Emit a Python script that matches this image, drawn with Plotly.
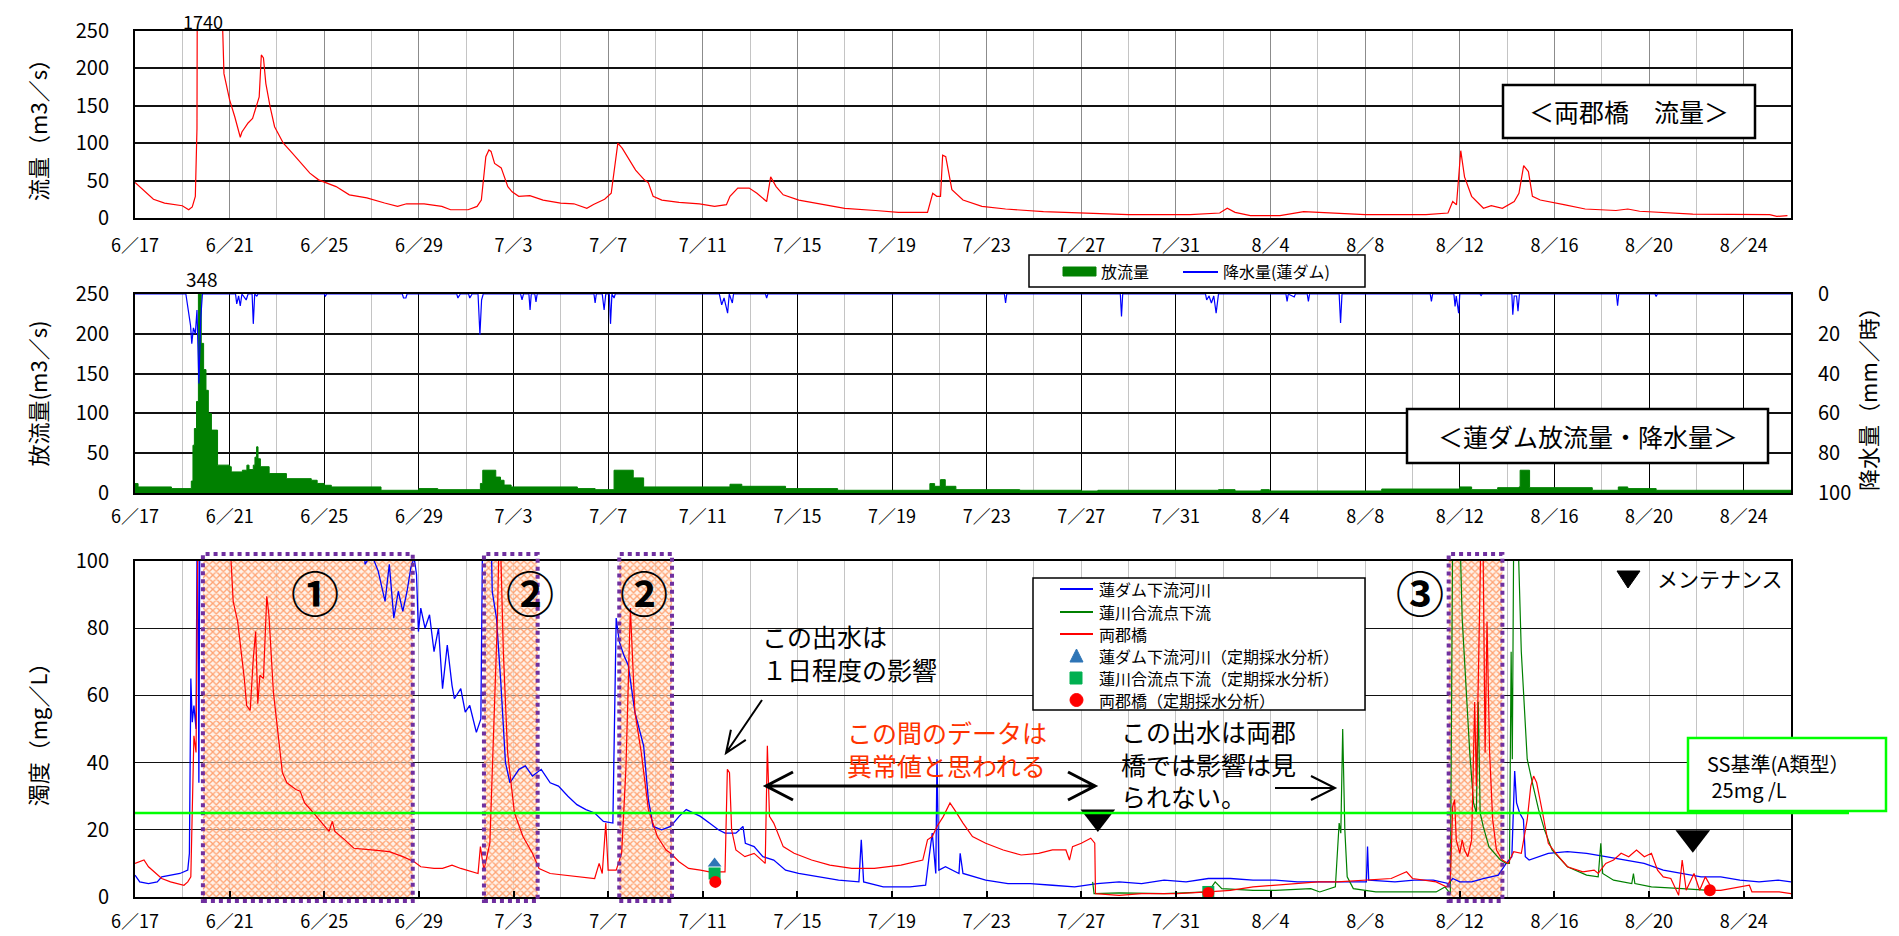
import math
import pandas as pd
import plotly.graph_objects as go

# ---------------- DATA (x = days after 6/17 00:00) ----------------
START = pd.Timestamp("2013-06-17 00:00")
SPAN_DAYS = 70

# top: 両郡橋 流量 (m3/s)
flow_pts = [(0, 47.5), (0.78, 25), (1.25, 20), (2.0, 16.4), (2.27, 11), (2.42, 14.7), (2.55, 29), (2.62, 120),
            (2.66, 700), (3.1, 1740), (3.62, 700), (3.7, 260), (3.76, 193), (4.0, 158), (4.22, 135), (4.41, 113),
            (4.45, 108), (4.52, 115), (4.78, 127), (4.97, 133), (5.12, 149), (5.25, 162), (5.34, 218), (5.43, 214),
            (5.53, 180), (5.71, 149), (5.9, 122), (6.27, 100), (6.64, 87), (7.01, 73), (7.39, 60), (7.76, 51),
            (8.04, 47.5), (8.5, 42), (9.06, 31), (9.8, 27), (10.55, 20), (11.1, 15.5), (11.48, 19), (12.22, 19),
            (12.97, 15.5), (13.34, 11), (14.08, 11), (14.46, 15.5), (14.64, 24), (14.83, 82), (14.96, 91),
            (15.05, 89), (15.2, 73), (15.48, 67), (15.76, 42), (15.94, 35), (16.22, 29), (16.69, 30), (17.25, 24),
            (17.99, 20), (18.55, 19), (19.1, 13), (19.38, 18), (19.85, 25), (20.13, 33), (20.41, 100), (20.6, 93),
            (20.97, 75), (21.16, 64), (21.53, 51), (21.7, 47), (21.9, 29), (22.27, 24), (23.0, 21), (23.86, 19),
            (24.5, 15.5), (25.0, 17.8), (25.15, 29), (25.48, 40), (25.96, 40), (26.29, 33), (26.7, 22), (26.87, 55),
            (27.1, 42), (27.4, 31), (28.06, 24), (29.0, 19), (30.0, 13), (31.3, 10), (32.27, 7.5), (33.5, 7.5),
            (33.72, 33), (33.89, 29), (34.05, 29), (34.14, 84), (34.27, 82), (34.53, 38), (35.0, 24), (35.8, 15.5),
            (36.8, 12), (38.4, 8.4), (40.0, 6.7), (42.0, 4.4), (44.6, 4.4), (45.85, 6.7), (46.17, 13), (46.5, 7.5),
            (47.15, 3.1), (48.4, 3.1), (49.4, 8.4), (50.4, 6.7), (52.0, 4.4), (54.57, 4.4), (55.5, 6.7), (55.7, 22),
            (55.86, 17.8), (56.04, 90), (56.2, 55), (56.5, 29), (57.0, 13), (57.33, 16.4), (57.8, 13), (58.3, 22),
            (58.5, 33), (58.7, 70), (58.9, 62), (59.07, 29), (59.4, 24), (60.4, 17.8), (61.3, 12), (62.6, 10),
            (63.1, 12), (63.6, 9), (65.85, 5.3), (69.1, 4.4), (69.4, 2.2), (69.85, 3.1)]

# middle: 蓮ダム 放流量 (m3/s), step values
discharge_pts = [(0, 11.8), (0.13, 7.6), (1.54, 5.5), (2.38, 15), (2.45, 60), (2.51, 81), (2.6, 115), (2.68, 348),
                 (2.8, 188), (2.9, 155), (3.0, 129), (3.1, 100), (3.23, 79), (3.49, 35), (4.0, 33), (4.07, 26.5),
                 (4.54, 28.6), (4.73, 35), (4.82, 29.4), (5.0, 35), (5.07, 45), (5.14, 58), (5.2, 43), (5.3, 33),
                 (5.67, 24.4), (6.4, 18), (7.45, 16), (7.7, 12), (8.0, 9.7), (8.3, 7.6), (10.4, 3.4), (12.0, 5.5),
                 (12.8, 4.2), (14.6, 12), (14.7, 28.6), (15.25, 20), (15.45, 16), (15.6, 10), (15.9, 7.6),
                 (18.7, 5.5), (19.45, 4.2), (20.25, 28.6), (21.06, 19), (21.5, 7.6), (25.15, 11), (25.65, 8.4),
                 (27.5, 5.5), (29.7, 3.4), (33.6, 11.8), (33.8, 8.4), (34.05, 16.8), (34.25, 8.4), (34.7, 4.2),
                 (37.4, 3.4), (40.0, 2.5), (40.7, 3.4), (45.8, 4.2), (46.5, 2.5), (47.6, 4.2), (47.95, 2.5),
                 (52.7, 5), (56.0, 7.6), (56.5, 4.2), (57.6, 6.7), (58.5, 7.6), (58.55, 28.6), (58.95, 6.7),
                 (61.6, 3.4), (62.7, 7.6), (63.1, 5.5), (64.3, 3.4), (70, 3.4)]

# middle: 降水量 (蓮ダム) mm/h
rain_pts = [(0, 0), (2.15, 0), (2.25, 8), (2.35, 16), (2.4, 25), (2.47, 17), (2.55, 20), (2.62, 8), (2.7, 45),
            (2.78, 12), (2.85, 0), (4.25, 0), (4.3, 5), (4.38, 1), (4.45, 6), (4.52, 0), (4.7, 3), (4.78, 0),
            (4.95, 0), (5.0, 15), (5.06, 0), (5.15, 1), (5.2, 0), (8.0, 0), (8.05, 1), (8.1, 0), (11.3, 0),
            (11.35, 2), (11.45, 2), (11.5, 0), (13.6, 0), (13.65, 2), (13.75, 0), (14.1, 0), (14.15, 2), (14.25, 0),
            (14.5, 0), (14.58, 20.5), (14.65, 3), (14.72, 0), (16.3, 0), (16.36, 3), (16.42, 0), (16.65, 0),
            (16.7, 8), (16.75, 0), (16.9, 0), (16.95, 4), (17.0, 0), (19.4, 0), (19.45, 4.5), (19.5, 0),
            (19.75, 0), (19.83, 8), (19.9, 0), (20.05, 0), (20.1, 15), (20.16, 0), (20.25, 2), (20.3, 0),
            (24.7, 0), (24.8, 5.4), (24.9, 2), (25.05, 9.6), (25.12, 0), (25.25, 4.5), (25.3, 0), (26.65, 0),
            (26.7, 2), (26.75, 0), (36.75, 0), (36.8, 4.5), (36.85, 0), (41.65, 0), (41.7, 11.3), (41.75, 0),
            (45.25, 0), (45.3, 3), (45.4, 1), (45.5, 4.5), (45.6, 1), (45.7, 9.6), (45.8, 0), (48.65, 0),
            (48.7, 3.7), (48.75, 0), (49.0, 1.5), (49.05, 0), (49.55, 0), (49.6, 3.7), (49.65, 0), (50.9, 0),
            (50.96, 14.6), (51.02, 0), (54.75, 0), (54.8, 3.7), (54.85, 0), (55.75, 0), (55.8, 6.2), (55.85, 1),
            (55.95, 9.6), (56.0, 0), (56.85, 0), (56.9, 0.8), (56.95, 0), (58.2, 0), (58.24, 10.4), (58.3, 1),
            (58.4, 1), (58.46, 8.7), (58.52, 0), (62.62, 0), (62.67, 5.9), (62.72, 0), (64.25, 0), (64.3, 1.2),
            (64.35, 0), (70, 0)]

# bottom: 濁度 (mg/L)
blue_pts = [(0, 6.5), (0.2, 4.5), (0.57, 4), (0.94, 4.5), (1.13, 6), (1.5, 6.5), (1.9, 7), (2.23, 8), (2.3, 13),
            (2.36, 65), (2.42, 52), (2.49, 57), (2.58, 50), (2.64, 130), (2.7, 34), (2.75, 130), (9.7, 130),
            (9.72, 99), (10.0, 102), (10.28, 97), (10.57, 88), (10.75, 99), (10.94, 83), (11.13, 91), (11.32, 85),
            (11.5, 91), (11.66, 98), (11.8, 101), (11.9, 96), (11.98, 79), (12.08, 86), (12.26, 80), (12.45, 84),
            (12.64, 73), (12.83, 80), (13.0, 62), (13.2, 75), (13.4, 63), (13.5, 59), (13.77, 62), (13.96, 55),
            (14.15, 57), (14.43, 49), (14.62, 53), (14.72, 130), (15.0, 130), (15.1, 91), (15.28, 83), (15.47, 63),
            (15.66, 40), (15.85, 34), (16.04, 36), (16.23, 38), (16.5, 39), (16.8, 36), (17.17, 38), (17.55, 34),
            (17.9, 33), (18.3, 30), (18.68, 27.5), (19.06, 26), (19.43, 25), (19.8, 22.5), (20.2, 22), (20.34, 83),
            (20.47, 76), (20.66, 72), (20.85, 69), (21.13, 55), (21.5, 45), (21.7, 29), (21.9, 21), (22.26, 20),
            (22.64, 21), (23.0, 24), (23.3, 26), (23.58, 25), (23.9, 24), (24.28, 22), (24.66, 20), (24.94, 19),
            (25.4, 19), (25.7, 21), (25.8, 16), (26.17, 15), (26.54, 12), (27.0, 11), (27.5, 8), (28.05, 7),
            (29.0, 6), (29.74, 5), (30.6, 4.5), (30.7, 17), (30.8, 4.5), (31.63, 3), (32.76, 3), (33.42, 3.5),
            (33.55, 11), (33.7, 19), (33.85, 7), (33.9, 41), (33.98, 8), (34.26, 9), (34.83, 7), (34.88, 13),
            (35.0, 7), (35.96, 5), (36.9, 4), (37.84, 4), (38.78, 3.5), (39.72, 3), (40.67, 4), (41.6, 4.5),
            (42.55, 4), (43.5, 5), (44.43, 4.5), (45.37, 5.5), (46.3, 5.5), (47.26, 5), (48.2, 5), (49.14, 4.5),
            (50.08, 4.5), (51.4, 4.5), (52.05, 4.5), (52.1, 15), (52.15, 5), (53.26, 4.5), (54.07, 5), (54.88, 5),
            (55.53, 4), (55.7, 5.5), (55.85, 5), (56.0, 4.5), (56.5, 4.5), (56.99, 5.5), (57.63, 6.5), (57.96, 10),
            (58.2, 12), (58.32, 37.5), (58.4, 28), (58.53, 25), (58.69, 23), (58.77, 12), (58.93, 11), (59.74, 13),
            (60.55, 13.5), (61.36, 13), (62.17, 12), (62.98, 11), (63.79, 10), (64.6, 8), (65.4, 7), (66.2, 6),
            (67.03, 6), (67.84, 5), (68.65, 4.5), (69.46, 5), (70, 4.5)]

green_pts = [(40.48, 4.5), (40.54, 1), (41.6, 1.2), (43.5, 1), (45.37, 1.5), (45.66, 4.5), (45.94, 2.5), (47.26, 2),
             (48.2, 2), (49.7, 2.5), (50.08, 1.5), (50.74, 3), (50.9, 22), (50.97, 19), (51.05, 50), (51.14, 20),
             (51.24, 6), (51.5, 2.5), (52.45, 1.5), (54.07, 1.5), (55.0, 1.5), (55.37, 3), (55.6, 1), (55.7, 110),
             (56.0, 110), (56.1, 83), (56.26, 63), (56.42, 43), (56.58, 28), (56.7, 25), (56.78, 58), (56.86, 25),
             (56.99, 21), (57.23, 15), (57.47, 13), (57.72, 11), (57.96, 10), (58.1, 10), (58.17, 73), (58.22, 41),
             (58.28, 110), (58.45, 110), (58.6, 73), (58.85, 41), (59.1, 33), (59.33, 26), (59.58, 20), (59.9, 14),
             (60.55, 9), (61.36, 6.5), (61.85, 6), (61.96, 16), (62.04, 7), (62.5, 5), (63.27, 4), (63.34, 7),
             (63.4, 4), (64.1, 3), (65.4, 2.5), (66.2, 2.2), (66.54, 2)]

red_pts = [(0, 10), (0.19, 10.5), (0.38, 11), (0.57, 9), (1.13, 5.5), (1.5, 4.5), (2.07, 3.5), (2.23, 4.5),
           (2.36, 6), (2.49, 48), (2.58, 43), (2.68, 130), (4.0, 130), (4.06, 100), (4.15, 88), (4.34, 82),
           (4.53, 71), (4.62, 65), (4.72, 57), (4.87, 55.5), (5.0, 71), (5.1, 79), (5.19, 57.5), (5.28, 66),
           (5.43, 65), (5.57, 89.5), (5.66, 84), (5.85, 61), (6.04, 49), (6.23, 37), (6.42, 34), (6.8, 32),
           (6.98, 31.5), (7.17, 28), (7.55, 25), (7.92, 22), (8.2, 19.5), (8.34, 22.5), (8.45, 19.5), (8.87, 17),
           (9.25, 14.5), (10.0, 14), (10.75, 13.5), (11.32, 12), (11.8, 10.5), (12.08, 9), (12.64, 8.5), (13.0, 8.5),
           (13.4, 9.5), (13.77, 8.5), (14.5, 7), (14.6, 15), (14.75, 8), (15.0, 16), (15.19, 53), (15.32, 83),
           (15.4, 110), (15.47, 100), (15.57, 73), (15.75, 43), (16.04, 25), (16.4, 18), (16.8, 13), (17.08, 8.5),
           (17.55, 7), (18.7, 6), (19.43, 5.5), (19.62, 10), (19.75, 7), (19.9, 22), (20.0, 8), (20.34, 8),
           (20.57, 13), (20.75, 38), (20.94, 86), (21.13, 55), (21.4, 43), (21.7, 26), (22.08, 18), (22.45, 14),
           (22.64, 13), (23.0, 10.5), (23.4, 8.5), (23.9, 8), (24.28, 7.5), (24.94, 7.5), (25.04, 38), (25.13, 37),
           (25.22, 20), (25.4, 14), (25.78, 12), (26.17, 13), (26.64, 10), (26.73, 45), (26.82, 24), (27.0, 22),
           (27.4, 15), (27.86, 13), (28.6, 11), (29.37, 9.5), (30.3, 8.5), (31.25, 8.5), (32.38, 9.5), (33.3, 11),
           (33.5, 17), (33.7, 18), (33.9, 21), (34.17, 24), (34.45, 28), (34.64, 26), (35.0, 22), (35.4, 18),
           (35.96, 16), (36.7, 14), (37.46, 12.5), (38.2, 13), (38.78, 14), (39.35, 14), (39.5, 11), (39.63, 15),
           (40.0, 16), (40.4, 17.5), (40.57, 16), (40.6, 1), (41.6, 0.5), (42.55, 1), (44.05, 1), (45.37, 1.5),
           (46.3, 2), (47.26, 3), (48.2, 3.5), (49.14, 4), (50.0, 4.5), (50.83, 4.5), (52.13, 5), (53.1, 5.5),
           (53.75, 7.5), (54.0, 5.5), (55.0, 4.5), (55.45, 3), (55.6, 5), (55.7, 27), (55.78, 29), (55.85, 17),
           (56.0, 13), (56.1, 17), (56.2, 14), (56.34, 12), (56.5, 17), (56.63, 58), (56.7, 33), (56.83, 83),
           (56.9, 110), (56.99, 100), (57.07, 43), (57.15, 82), (57.26, 43), (57.39, 23), (57.55, 14), (57.8, 11),
           (58.04, 10), (58.28, 13.5), (58.6, 13), (58.85, 23), (59.0, 33), (59.12, 36), (59.25, 34), (59.5, 25),
           (59.74, 16), (60.06, 13), (60.55, 9), (61.2, 7.5), (61.68, 8), (61.85, 7), (62.17, 10), (62.5, 11),
           (62.82, 13), (63.14, 12), (63.47, 14), (63.8, 12), (64.1, 13), (64.36, 8), (64.6, 6), (64.92, 5.5),
           (65.25, 0.5), (65.4, 11), (65.57, 2), (65.9, 7), (66.14, 2), (66.38, 6), (66.7, 2), (67.03, 2),
           (68.24, 3.5), (68.35, 1.5), (69.5, 1.5), (70, 1)]

# 定期採水分析
samp_blue = [(24.5, 10)]
samp_green = [(24.5, 7), (45.37, 1.5)]
samp_red = [(24.53, 4.5), (45.37, 1.2), (66.57, 2)]

# メンテナンス
maint_pts = [(40.7, 23.8), (65.85, 17.6)]

# 出水期間 (hatched boxes)
box_start = [2.87, 14.75, 20.47, 55.53]
box_end = [11.74, 17.02, 22.7, 57.8]
box_label = ["①", "②", "②", "③"]
box_label_day = [7.6, 16.7, 21.5, 54.3]

SS_LIMIT = 25
FLOW_PEAK_LABEL = "1740"
DIS_PEAK_LABEL = "348"

# ---------------- helpers ----------------
def T(days):
    return [START + pd.Timedelta(days=d) for d in days]

def split(pts):
    return [p[0] for p in pts], [p[1] for p in pts]

FONT = "Noto Sans CJK JP"
OFF = 8                      # page body margin
W, H = 1899 - OFF, 936 - OFF
ML, MR, MT, MB = 135 - OFF, W - (1791 - OFF), 31 - OFF, H - (897 - OFF)
PW, PH = W - ML - MR, H - MT - MB

def px(x):  # screenshot pixel x -> paper
    return (x - OFF - ML) / PW

def py(y):  # screenshot pixel y -> paper
    return (H - MB - (y - OFF)) / PH

DOM_TOP = [py(218), 1.0]
DOM_MID = [py(493), py(294)]
DOM_BOT = [0.0, py(561)]

def vb(v):  # bottom-panel value -> paper y
    return DOM_BOT[0] + v / 100 * (DOM_BOT[1] - DOM_BOT[0])

def dpx(d):  # day -> paper x
    return d / SPAN_DAYS

fig = go.Figure()

# top flow
d, v = split(flow_pts)
fig.add_trace(go.Scatter(x=T(d), y=v, mode="lines", line=dict(color="#FF0000", width=1.2),
                         xaxis="x", yaxis="y", showlegend=False))
# discharge
d, v = split(discharge_pts)
fig.add_trace(go.Scatter(x=T(d), y=v, mode="lines", line=dict(color="#008000", width=1, shape="hv"),
                         fill="tozeroy", fillcolor="#008000", xaxis="x2", yaxis="y2", showlegend=False))
# rain
d, v = split(rain_pts)
fig.add_trace(go.Scatter(x=T(d), y=v, mode="lines", line=dict(color="#0000FF", width=1.2),
                         xaxis="x2", yaxis="y4", showlegend=False))

# hatched boxes (under the turbidity lines)
bx, by = [], []
for s, e in zip(box_start, box_end):
    bx += T([s, s, e, e, s]) + [None]
    by += [0, 100, 100, 0, 0, None]
fig.add_trace(go.Scatter(x=bx, y=by, mode="lines", line=dict(width=0), fill="toself",
                         fillcolor="rgba(255,160,110,0.5)",
                         fillpattern=dict(shape="x", fgcolor="rgba(255,140,80,0.78)",
                                          bgcolor="rgba(255,230,215,0.55)", size=5, solidity=0.45),
                         xaxis="x3", yaxis="y3", showlegend=False, hoverinfo="skip"))

# turbidity
for pts, col, w in [(blue_pts, "#0000FF", 1.3), (green_pts, "#008000", 1.2), (red_pts, "#FF0000", 1.2)]:
    d, v = split(pts)
    fig.add_trace(go.Scatter(x=T(d), y=v, mode="lines", line=dict(color=col, width=w),
                             xaxis="x3", yaxis="y3", showlegend=False))

# maintenance markers
d, v = split(maint_pts)
fig.add_trace(go.Scatter(x=T(d), y=v, mode="markers", cliponaxis=False,
                         marker=dict(symbol="triangle-down", size=30, color="black"),
                         xaxis="x3", yaxis="y3", showlegend=False))
# sampling markers
for pts, sym, col in [(samp_blue, "triangle-up", "#2E75B6"), (samp_green, "square", "#00B050"),
                      (samp_red, "circle", "#FF0000")]:
    d, v = split(pts)
    fig.add_trace(go.Scatter(x=T(d), y=v, mode="markers", cliponaxis=False,
                             marker=dict(symbol=sym, size=12, color=col, line=dict(width=0)),
                             xaxis="x3", yaxis="y3", showlegend=False))

# ---------------- axes ----------------
DAY_MS = 86400000
xrange_ = [START, START + pd.Timedelta(days=SPAN_DAYS)]

def xaxis(anchor, major_grid, standoff, ticks=""):
    return dict(type="date", range=xrange_, domain=[0, 1], anchor=anchor,
                tick0=START, dtick=4 * DAY_MS, tickformat="%-m／%-d",
                showgrid=True, gridcolor=major_grid, gridwidth=1,
                minor=dict(tick0=START, dtick=2 * DAY_MS, showgrid=True, gridcolor="#C4C4C4", gridwidth=1),
                showline=True, linecolor="black", linewidth=2, mirror=True,
                ticks=ticks, ticklen=6, tickcolor="black", tickwidth=1.5,
                ticklabelstandoff=standoff,
                tickfont=dict(family=FONT, size=18, color="black"), zeroline=False)

def yaxis(dom, rng, dtick, title, gridw=1.5):
    return dict(domain=dom, range=rng, dtick=dtick, showgrid=True, gridcolor="#111111", gridwidth=gridw,
                showline=True, linecolor="black", linewidth=2, mirror=True, zeroline=False,
                ticks="", ticklabelstandoff=20,
                tickfont=dict(family=FONT, size=20, color="black"),
                title=dict(text=title, font=dict(family=FONT, size=22, color="black"), standoff=22))

layout = dict(
    width=W, height=H, autosize=False, template="none",
    paper_bgcolor="white", plot_bgcolor="white",
    margin=dict(l=ML, r=MR, t=MT, b=MB),
    showlegend=False,
    xaxis=xaxis("y", "#8C8C8C", 10),
    xaxis2=xaxis("y2", "#000000", 6),
    xaxis3=xaxis("y3", "#C4C4C4", 7, ticks="inside"),
    yaxis=yaxis(DOM_TOP, [0, 250], 50, "流量（m3／s）"),
    yaxis2=yaxis(DOM_MID, [0, 250], 50, "放流量(m3／s)"),
    yaxis3=yaxis(DOM_BOT, [0, 100], 20, "濁度（mg／L）", gridw=1.2),
    yaxis4=dict(overlaying="y2", anchor="x2", side="right", range=[100, 0], dtick=20, showgrid=False,
                zeroline=False, showline=False, ticks="", ticklabelstandoff=26,
                tickfont=dict(family=FONT, size=20, color="black"),
                title=dict(text="降水量（mm／時）", font=dict(family=FONT, size=22, color="black"), standoff=4)),
)
fig.update_layout(**layout)

# ---------------- decorations ----------------
shapes, annotations = [], []

def P(x, y):
    return f"{px(x):.5f},{py(y):.5f}"

def rect(x0, y0, x1, y1, color="black", width=2, fill="white", dash=None):
    shapes.append(dict(type="rect", xref="paper", yref="paper", x0=px(x0), x1=px(x1), y0=py(y1), y1=py(y0),
                       line=dict(color=color, width=width, dash=dash), fillcolor=fill, layer="above"))

def text(s, x, y, size, xanchor="left", color="black", yanchor="middle"):
    annotations.append(dict(xref="paper", yref="paper", x=px(x), y=py(y), text=s, showarrow=False,
                            xanchor=xanchor, yanchor=yanchor, align="left",
                            font=dict(family=FONT, size=size, color=color)))

def arrow(x0, y0, x1, y1, hl, hw, width, both=False):
    L = math.hypot(x1 - x0, y1 - y0)
    ux, uy = (x1 - x0) / L, (y1 - y0) / L
    nx, ny = -uy, ux
    path = (f"M{P(x0, y0)} L{P(x1, y1)} "
            f"M{P(x1 - ux * hl + nx * hw, y1 - uy * hl + ny * hw)} L{P(x1, y1)} "
            f"L{P(x1 - ux * hl - nx * hw, y1 - uy * hl - ny * hw)}")
    if both:
        path += (f" M{P(x0 + ux * hl + nx * hw, y0 + uy * hl + ny * hw)} L{P(x0, y0)} "
                 f"L{P(x0 + ux * hl - nx * hw, y0 + uy * hl - ny * hw)}")
    shapes.append(dict(type="path", xref="paper", yref="paper", path=path,
                       line=dict(color="black", width=width), layer="above"))

def tri(x0, y0, x1, y1, x2, y2, color):
    shapes.append(dict(type="path", xref="paper", yref="paper",
                       path=f"M{P(x0, y0)} L{P(x1, y1)} L{P(x2, y2)} Z",
                       fillcolor=color, line=dict(color=color, width=1), layer="above"))

# dotted purple borders of hatched boxes
for s, e in zip(box_start, box_end):
    shapes.append(dict(type="rect", xref="paper", yref="paper", x0=dpx(s), x1=dpx(e),
                       y0=py(901), y1=py(554), line=dict(color="#7030A0", width=4, dash="dot"),
                       fillcolor="rgba(0,0,0,0)", layer="above"))
for lab, dd in zip(box_label, box_label_day):
    annotations.append(dict(xref="paper", yref="paper", x=dpx(dd), y=py(591), text=f"<b>{lab}</b>",
                            showarrow=False, xanchor="center", yanchor="middle",
                            font=dict(family=FONT, size=48, color="black")))

# SS standard line
shapes.append(dict(type="line", xref="paper", yref="paper", x0=0, x1=px(1849), y0=vb(SS_LIMIT), y1=vb(SS_LIMIT),
                   line=dict(color="#00FF00", width=2.5), layer="above"))
rect(1688, 738, 1886, 811, color="#00FF00", width=2.5)
text("SS基準(A類型）<br> 25mg /L", 1705, 776, 20)

# peak labels
text(FLOW_PEAK_LABEL, 203, 21, 18, xanchor="center")
text(DIS_PEAK_LABEL, 202, 278, 19, xanchor="center")

# title boxes
rect(1503, 85, 1755, 138, width=2.5)
text("＜両郡橋　流量＞", 1629, 111, 25, xanchor="center")
rect(1407, 409, 1768, 463, width=2.5)
text("＜蓮ダム放流量・降水量＞", 1588, 436, 25, xanchor="center")

# middle legend
rect(1029, 255, 1365, 287, width=1.5)
rect(1063, 267, 1096, 276, color="#008000", width=1, fill="#008000")
text("放流量", 1099, 271, 16)
shapes.append(dict(type="line", xref="paper", yref="paper", x0=px(1183), x1=px(1218), y0=py(272), y1=py(272),
                   line=dict(color="#0000FF", width=2), layer="above"))
text("降水量(蓮ダム)", 1221, 271, 16)

# bottom legend
rect(1033, 578, 1365, 710, width=1.5)
leg_rows = [589, 612, 634, 656, 678, 700]
leg_text = ["蓮ダム下流河川", "蓮川合流点下流", "両郡橋", "蓮ダム下流河川（定期採水分析）",
            "蓮川合流点下流（定期採水分析）", "両郡橋（定期採水分析）"]
for yy, col in zip(leg_rows[:3], ["#0000FF", "#008000", "#FF0000"]):
    shapes.append(dict(type="line", xref="paper", yref="paper", x0=px(1060), x1=px(1093), y0=py(yy), y1=py(yy),
                       line=dict(color=col, width=1.8), layer="above"))
tri(1070, leg_rows[3] + 6, 1083, leg_rows[3] + 6, 1076.5, leg_rows[3] - 7, "#2E75B6")
rect(1070, leg_rows[4] - 6, 1082, leg_rows[4] + 6, color="#00B050", width=1, fill="#00B050")
shapes.append(dict(type="circle", xref="paper", yref="paper", x0=px(1070), x1=px(1083),
                   y0=py(leg_rows[5] + 6.5), y1=py(leg_rows[5] - 6.5), fillcolor="#FF0000",
                   line=dict(color="#FF0000", width=1), layer="above"))
for yy, t in zip(leg_rows, leg_text):
    text(t, 1097, yy, 16)

# maintenance legend
tri(1617, 571, 1640, 571, 1628, 588, "black")
text("メンテナンス", 1655, 578, 21)

# annotations with arrows
text("この出水は<br>１日程度の影響", 760, 652, 25)
arrow(762, 700, 726, 753, 22, 9, 2)
text("この間のデータは<br>異常値と思われる", 845, 748, 25, color="#FF3300")
arrow(766, 786, 1095, 786, 27, 14, 3, both=True)
text("この出水は両郡<br>橋では影響は見<br>られない。", 1119, 763, 25)
arrow(1275, 788, 1335, 788, 24, 12, 2)

fig.update_layout(shapes=shapes, annotations=annotations)
fig.write_html("out.html")
